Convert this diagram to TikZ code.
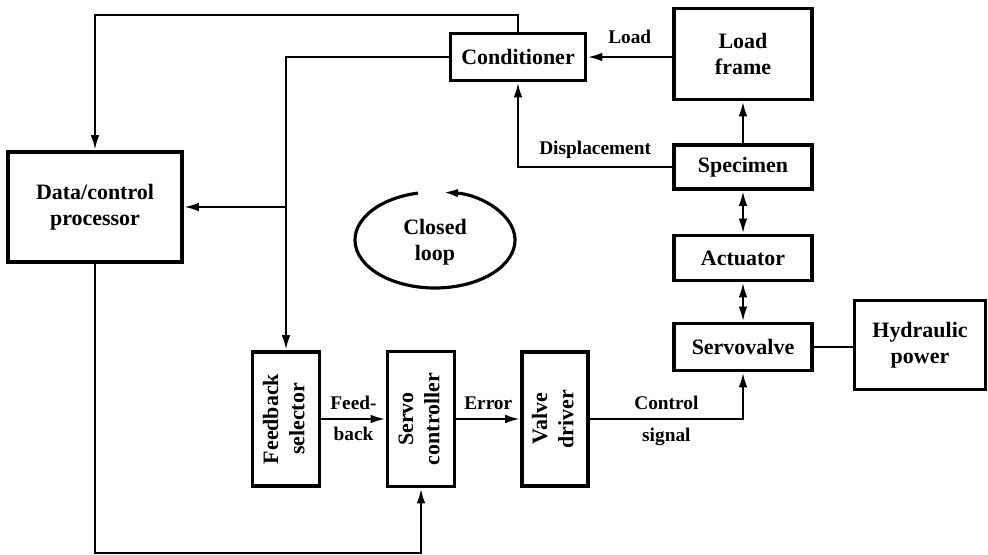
\documentclass[tikz,border=0pt]{standalone}
\usepackage{fontspec}
\setmainfont{Liberation Serif}
\usepackage{graphicx}
\usetikzlibrary{arrows.meta,positioning,calc}

\begin{document}
\begin{tikzpicture}[x=0.2mm,y=-0.2mm,>={Latex[length=3mm,width=1.7mm]},
  every node/.style={font=\bfseries\fontsize{12.5}{15}\selectfont},
  box/.style={draw,line width=2pt,align=center,inner sep=0pt},
  wire/.style={line width=1.4pt},
  lbl/.style={font=\bfseries\fontsize{11}{13}\selectfont,inner sep=0pt}]
\useasboundingbox (0,0) rectangle (988,555);
% blocks
\node[box,minimum width=34.8mm,minimum height=22mm] (proc) at (95,207) {Data/control\\processor};
\node[box,minimum width=27mm,minimum height=9.4mm] (cond) at (518,57) {Conditioner};
\node[box,minimum width=27.6mm,minimum height=18.2mm] (frame) at (743,54) {Load\\frame};
\node[box,minimum width=27.6mm,minimum height=8.8mm] (spec) at (743,167) {Specimen};
\node[box,minimum width=27.6mm,minimum height=9mm] (act) at (743,258) {Actuator};
\node[box,minimum width=27.6mm,minimum height=9.4mm] (valve) at (743,347) {Servovalve};
\node[box,minimum width=26.2mm,minimum height=17.8mm] (hyd) at (920,345) {Hydraulic\\power};
\node[box,minimum width=13.4mm,minimum height=26.8mm] (fsel) at (286,419)
  {\rotatebox{90}{\begin{tabular}{@{}c@{}}Feedback\\selector\end{tabular}}};
\node[box,minimum width=13.4mm,minimum height=27mm] (servo) at (421,419)
  {\rotatebox{90}{\begin{tabular}{@{}c@{}}Servo\\controller\end{tabular}}};
\node[box,minimum width=13.2mm,minimum height=26.8mm] (driver) at (555,419)
  {\rotatebox{90}{\begin{tabular}{@{}c@{}}Valve\\driver\end{tabular}}};
\node[align=center] (loop) at (435,242) {Closed\\loop};

% helper points
\coordinate (top) at (95,15);
\coordinate (bot) at (95,553);
\coordinate (tap) at (fsel.north |- proc.east);

% signal lines
\draw[wire,->] (cond.north) |- (top) -- (proc.north);
\draw[wire,->] (cond.west) -| (fsel.north);
\draw[wire,->] (tap) -- (proc.east);
\draw[wire,->] (cond.east -| frame.west) -- node[lbl,above=7pt] (lload) {Load} (cond.east);
\draw[wire,->] (spec.north) -- (frame.south);
\draw[wire,->] (spec.west) -| node[lbl,pos=0.25,above=3.8pt] (ldisp) {Displacement} (cond.south);
\draw[wire,<->] (spec.south) -- (act.north);
\draw[wire,<->] (act.south) -- (valve.north);
\draw[wire] (valve.east) -- (valve.east -| hyd.west);
\draw[wire,->] (fsel.east) -- node[lbl,above=4.5pt] (lfeed) {Feed-}
  node[lbl,below=4pt] (lback) {back} (servo.west);
\draw[wire,->] (servo.east) -- node[lbl,above=4.5pt] (lerr) {Error} (driver.west);
\draw[wire,->] (driver.east) -| node[lbl,pos=0.25,above=4.5pt] (lctrl) {Control}
  node[lbl,pos=0.25,below=4.5pt] (lsig) {signal} (valve.south);
\draw[wire,->] (proc.south) -- (bot) -| (servo.south);

% closed loop sign
\draw[line width=1.8pt,->] ([shift={(102.3:16mm and 9.6mm)}]435,240)
  arc[start angle=102.3,end angle=444.3,x radius=16mm,y radius=9.6mm];
\end{tikzpicture}
\end{document}
